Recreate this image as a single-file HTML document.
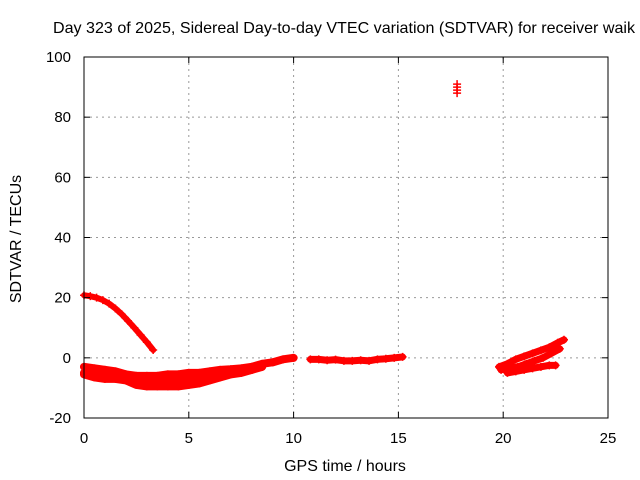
<!DOCTYPE html>
<html><head><meta charset="utf-8"><style>
body{margin:0;background:#fff;}
svg{display:block;font-family:"Liberation Sans",sans-serif;}
</style></head><body>
<svg id="chart" width="640" height="480">
<text x="53" y="33" font-size="16" textLength="582" lengthAdjust="spacingAndGlyphs">Day 323 of 2025, Sidereal Day-to-day VTEC variation (SDTVAR) for receiver waik</text>
<text x="345" y="471" font-size="16" text-anchor="middle">GPS time / hours</text>
<text transform="translate(21,239) rotate(-90)" font-size="16" text-anchor="middle">SDTVAR / TECUs</text>
<g id="grid"></g><g id="marks"></g>
<rect x="84" y="57" width="524" height="361" fill="none" stroke="#000"/>
<g id="ticks"></g>
</svg>
<script>
const xTicks=[0,5,10,15,20,25];
const yTicks=[-20,0,20,40,60,80,100];
const trackArcT=[0,0.3,0.6,0.9,1.2,1.5,1.8,2.1,2.4,2.7,3.0,3.3];
const trackArcV=[20.8,20.5,20,19.2,18,16.4,14.5,12.3,10,7.6,5.2,2.6];
const trackUpT=[0,0.5,1,1.5,2,2.5,3,3.5,4,4.5,5,5.5,6,6.5,7,7.5,8,8.5,9,9.5,10];
const trackUpV=[-3,-3.5,-4,-4.5,-5.5,-6,-6,-6,-5.5,-5.5,-5,-5,-4.5,-4,-3.8,-3.5,-3,-2,-1.5,-0.5,0];
const trackMidT=[0,0.5,1,1.5,2,2.5,3,3.5,4,4.5,5,5.5,6,6.5,7,7.5,8];
const trackMidV=[-5,-6,-6,-5.5,-6.5,-7.5,-8,-7.5,-7,-7.5,-7,-6,-5.5,-5,-4.5,-4.5,-4];
const trackLowT=[0,0.5,1,1.5,2,2.5,3,3.5,4,4.5,5,5.5,6,6.5,7,7.5,8,8.5];
const trackLowV=[-5.5,-6.5,-7,-7,-7.5,-9,-9.5,-9.5,-9.5,-9.5,-9,-8.5,-7.5,-6.5,-5.5,-5,-4,-3];
const trackNoonT=[10.8,11.2,11.6,12,12.4,12.8,13.2,13.6,14,14.4,14.8,15.2];
const trackNoonV=[-0.5,-0.5,-0.8,-0.6,-1,-1,-0.8,-1,-0.5,-0.3,0,0.3];
const trackEveAT=[19.8,20.2,20.6,21,21.4,21.8,22.2,22.6,22.9];
const trackEveAV=[-3,-2,-0.5,0.5,1.5,2.5,3.5,5,6];
const trackEveBT=[19.9,20.3,20.7,21.1,21.5,21.9,22.3,22.7];
const trackEveBV=[-4,-3.5,-3,-2,-1,0,1.5,3];
const trackEveCT=[20.2,20.6,21,21.4,21.8,22.2,22.5];
const trackEveCV=[-5,-4.5,-4,-3.5,-3,-2.5,-2.5];
const outlierT=[17.8,17.8,17.8,17.8];
const outlierV=[91,90,89,88];
const sx=t=>84+t*524/25, sy=v=>418-(v+20)*361/120;
const NS='http://www.w3.org/2000/svg';
const grid=document.getElementById('grid'),ticks=document.getElementById('ticks'),marks=document.getElementById('marks');
function el(tag,a,p){const e=document.createElementNS(NS,tag);for(const k in a)e.setAttribute(k,a[k]);p.appendChild(e);return e;}
xTicks.forEach(t=>{const x=sx(t);
 if(t>0&&t<25){const g=el('line',{x1:x,x2:x,y1:57,y2:418,stroke:'#999','stroke-dasharray':'2,4'},grid);
 
 }
 el('line',{x1:x,x2:x,y1:418,y2:412,stroke:'#000'},ticks);el('line',{x1:x,x2:x,y1:57,y2:63,stroke:'#000'},ticks);
 const l=el('text',{x:x,y:443,'font-size':15,'text-anchor':'middle'},ticks);l.textContent=t;
 
 });
yTicks.forEach(v=>{const y=sy(v);
 if(v>-20&&v<100){const g=el('line',{x1:84,x2:608,y1:y,y2:y,stroke:'#999','stroke-dasharray':'2,4'},grid);
 
 }
 el('line',{x1:84,x2:90,y1:y,y2:y,stroke:'#000'},ticks);el('line',{x1:608,x2:602,y1:y,y2:y,stroke:'#000'},ticks);
 const l=el('text',{x:71,y:y+5,'font-size':15,'text-anchor':'end'},ticks);l.textContent=v;
 
 });
function track(T,V,w,name){
 const pts=T.map((t,i)=>sx(t)+','+sy(V[i])).join(' ');
 const p=el('polyline',{points:pts,fill:'none',stroke:'#f00','stroke-width':w,'stroke-linejoin':'round','stroke-linecap':'round'},marks);
 
 
 T.forEach((t,i)=>{const x=sx(t),y=sy(V[i]);
  const m=el('path',{d:`M${x-4},${y}H${x+4}M${x},${y-4}V${y+4}`,stroke:'#f00','stroke-width':1.5},marks);
  
  });
}
track(trackArcT,trackArcV,6,'arc-track');
track(trackUpT,trackUpV,8,'upper-band-track');
track(trackMidT,trackMidV,8,'middle-band-track');
track(trackLowT,trackLowV,8,'lower-band-track');
track(trackNoonT,trackNoonV,7,'noon-track');
track(trackEveAT,trackEveAV,7,'evening-track-a');
track(trackEveBT,trackEveBV,7,'evening-track-b');
track(trackEveCT,trackEveCV,7,'evening-track-c');
track(outlierT,outlierV,1.5,'outlier-points');
</script>
</body></html>
